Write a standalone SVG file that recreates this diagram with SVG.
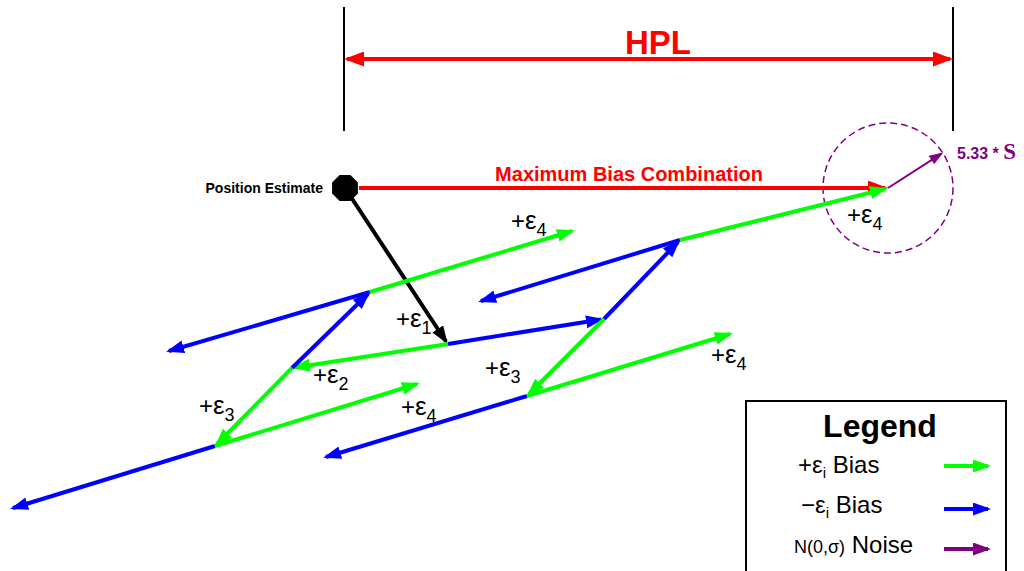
<svg xmlns="http://www.w3.org/2000/svg" width="1024" height="571" viewBox="0 0 1024 571">
<style>
.lbl{font-family:"Liberation Sans",Arial,sans-serif;font-size:24px;fill:#000}
.eps{font-size:26px}
.sub{font-size:18px}
.g{stroke:#00FF00;stroke-width:4;fill:none;marker-end:url(#ag)}
.b{stroke:#0000FF;stroke-width:4;fill:none;marker-end:url(#ab)}
.leg{font-family:"Liberation Sans",Arial,sans-serif;font-size:24px;fill:#000}
</style>
<defs>
<marker id="ag" markerUnits="userSpaceOnUse" markerWidth="20" markerHeight="14" refX="15" refY="6.5" orient="auto"><path d="M0,0 L18,6.5 L0,13 z" fill="#00FF00"/></marker>
<marker id="ab" markerUnits="userSpaceOnUse" markerWidth="20" markerHeight="14" refX="15" refY="6.5" orient="auto"><path d="M0,0 L18,6.5 L0,13 z" fill="#0000FF"/></marker>
<marker id="ak" markerUnits="userSpaceOnUse" markerWidth="20" markerHeight="14" refX="15" refY="6.5" orient="auto"><path d="M0,0 L18,6.5 L0,13 z" fill="#000"/></marker>
<marker id="ar" markerUnits="userSpaceOnUse" markerWidth="22" markerHeight="16" refX="17" refY="7.5" orient="auto"><path d="M0,0 L20,7.5 L0,15 z" fill="#FF0000"/></marker>
<marker id="ars" markerUnits="userSpaceOnUse" markerWidth="22" markerHeight="16" refX="3" refY="7.5" orient="auto"><path d="M20,0 L0,7.5 L20,15 z" fill="#FF0000"/></marker>
<marker id="ap" markerUnits="userSpaceOnUse" markerWidth="16" markerHeight="12" refX="12" refY="5" orient="auto"><path d="M0,0 L14,5 L0,10 z" fill="#800080"/></marker>
<marker id="apl" markerUnits="userSpaceOnUse" markerWidth="20" markerHeight="14" refX="15" refY="6.5" orient="auto"><path d="M0,0 L18,6.5 L0,13 z" fill="#800080"/></marker>
</defs>
<rect width="1024" height="571" fill="#fff"/>

<g id="hpl">
<line x1="344" y1="7" x2="344" y2="131" stroke="#000" stroke-width="2"/>
<line x1="953" y1="7" x2="953" y2="131" stroke="#000" stroke-width="2"/>
<line x1="347" y1="59" x2="950" y2="59" stroke="#FF0000" stroke-width="4" marker-start="url(#ars)" marker-end="url(#ar)"/>
<text x="658" y="54" text-anchor="middle" font-family="Liberation Sans,Arial,sans-serif" font-weight="bold" font-size="33" fill="#FF0000">HPL</text>
</g>

<g id="noise-circle">
<circle cx="888" cy="188" r="65" fill="none" stroke="#800080" stroke-width="1.5" stroke-dasharray="7,4"/>
<line x1="888" y1="188" x2="941.5" y2="153.6" stroke="#800080" stroke-width="2" marker-end="url(#ap)"/>
<text x="957" y="159" font-family="Liberation Sans,Arial,sans-serif" font-weight="bold" font-size="16" fill="#800080">5.33 * <tspan font-family="Liberation Serif,Times New Roman,serif" font-weight="bold" font-size="23">S</tspan></text>
</g>

<g id="connectors">
<line x1="359" y1="188" x2="885" y2="188" stroke="#FF0000" stroke-width="4" marker-end="url(#ar)"/>
<line x1="345" y1="188" x2="446" y2="341.5" stroke="#000" stroke-width="4" marker-end="url(#ak)"/>
<line class="b" x1="448" y1="344" x2="601" y2="319.5"/>
<line class="g" x1="448" y1="344" x2="295" y2="367.5"/>
<line class="b" x1="292" y1="368" x2="368" y2="294"/>
<line class="g" x1="292" y1="368" x2="217" y2="444"/>
<line class="b" x1="370" y1="292" x2="169" y2="351"/>
<line class="g" x1="370" y1="292" x2="572" y2="231"/>
<line class="b" x1="215" y1="446" x2="13" y2="508"/>
<line class="g" x1="215" y1="446" x2="417" y2="384"/>
<line class="b" x1="604" y1="319" x2="678" y2="242"/>
<line class="g" x1="604" y1="319" x2="529" y2="394"/>
<line class="b" x1="680" y1="240" x2="481" y2="301"/>
<line class="g" x1="680" y1="240" x2="885" y2="189"/>
<line class="b" x1="527" y1="396" x2="326" y2="457"/>
<line class="g" x1="527" y1="396" x2="730" y2="334"/>
</g>

<g id="position-estimate">
<polygon points="357.9,193.4 350.4,200.9 339.6,200.9 332.1,193.4 332.1,182.6 339.6,175.1 350.4,175.1 357.9,182.6" fill="#000"/>
<text x="323" y="193" text-anchor="end" font-family="Liberation Sans,Arial,sans-serif" font-weight="bold" font-size="14" fill="#000">Position Estimate</text>
</g>

<g id="max-bias-label">
<text x="629" y="181" text-anchor="middle" font-family="Liberation Sans,Arial,sans-serif" font-weight="bold" font-size="20" fill="#FF0000">Maximum Bias Combination</text>
</g>

<g id="labels">
<text class="lbl" x="396" y="327">+<tspan class="eps">ε</tspan><tspan class="sub" dy="7">1</tspan></text>
<text class="lbl" x="313" y="383">+<tspan class="eps">ε</tspan><tspan class="sub" dy="7">2</tspan></text>
<text class="lbl" x="199" y="414">+<tspan class="eps">ε</tspan><tspan class="sub" dy="7">3</tspan></text>
<text class="lbl" x="401" y="415">+<tspan class="eps">ε</tspan><tspan class="sub" dy="7">4</tspan></text>
<text class="lbl" x="511" y="229">+<tspan class="eps">ε</tspan><tspan class="sub" dy="7">4</tspan></text>
<text class="lbl" x="485" y="376">+<tspan class="eps">ε</tspan><tspan class="sub" dy="7">3</tspan></text>
<text class="lbl" x="711" y="363">+<tspan class="eps">ε</tspan><tspan class="sub" dy="7">4</tspan></text>
<text class="lbl" x="847" y="223">+<tspan class="eps">ε</tspan><tspan class="sub" dy="7">4</tspan></text>
</g>

<g id="legend">
<rect x="746" y="401" width="260" height="185" fill="#fff" stroke="#000" stroke-width="2"/>
<text x="880" y="437" text-anchor="middle" font-family="Liberation Sans,Arial,sans-serif" font-weight="bold" font-size="32" fill="#000">Legend</text>
<text class="leg" x="798" y="473">+ε<tspan font-size="15" dy="5">i</tspan><tspan dy="-5"> Bias</tspan></text>
<text class="leg" x="801" y="513">−ε<tspan font-size="15" dy="5">i</tspan><tspan dy="-5"> Bias</tspan></text>
<text class="leg" x="794" y="553"><tspan font-size="18">N(0,σ)</tspan> Noise</text>
<line x1="944" y1="466" x2="988" y2="466" stroke="#00FF00" stroke-width="4" marker-end="url(#ag)"/>
<line x1="944" y1="509" x2="988" y2="509" stroke="#0000FF" stroke-width="4" marker-end="url(#ab)"/>
<line x1="944" y1="549" x2="988" y2="549" stroke="#800080" stroke-width="4" marker-end="url(#apl)"/>
</g>
</svg>
